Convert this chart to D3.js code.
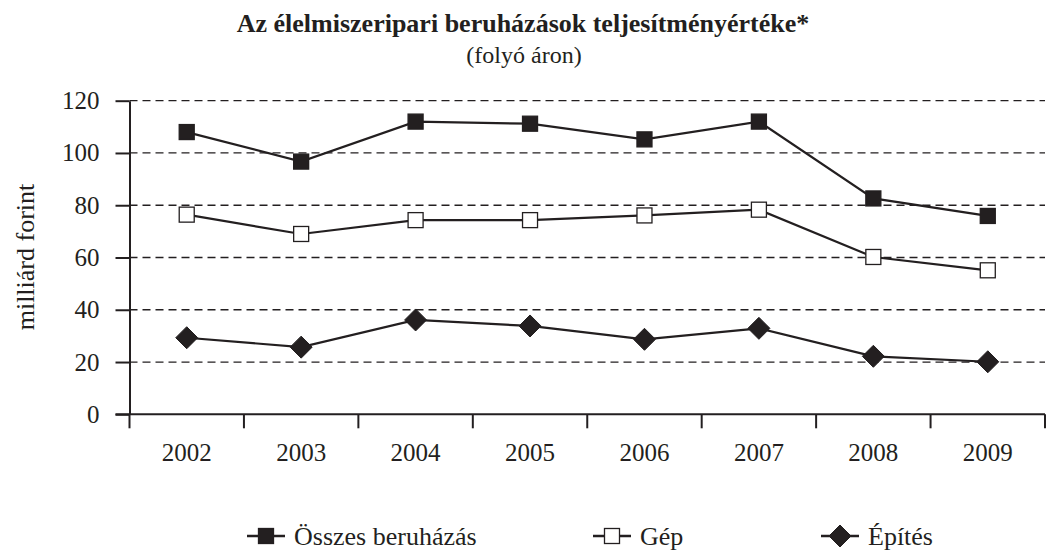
<!DOCTYPE html>
<html>
<head>
<meta charset="utf-8">
<script src="https://cdn.jsdelivr.net/npm/d3@7"></script>
<style>
  body { margin: 0; background: #fff; }
  svg text { font-family: "Liberation Serif", "DejaVu Serif", serif; }
</style>
</head>
<body>
<svg id="chart" width="1048" height="553"></svg>
<script>
// data
const years = ["2002", "2003", "2004", "2005", "2006", "2007", "2008", "2009"];
const osszes = [108, 96.7, 112, 111.2, 105.2, 112, 82.6, 75.9];
const gep = [76.4, 69, 74.3, 74.3, 76.1, 78.3, 60.2, 55.1];
const epites = [29.3, 25.7, 36.1, 33.8, 28.7, 32.9, 22.2, 20.1];
const yTicks = [0, 20, 40, 60, 80, 100, 120];
const seriesNames = ["Összes beruházás", "Gép", "Építés"];

const ink = "#231f20";
const serif = "Liberation Serif, serif";
const svg = d3.select("#chart");

const plotLeft = 129.5, plotRight = 1045, plotTop = 100.7, plotBottom = 414.3;

const x = d3.scaleBand().domain(years).range([plotLeft, plotRight]);
const y = d3.scaleLinear().domain([0, 120]).range([plotBottom, plotTop]);

// title
svg.append("text")
  .attr("x", 523).attr("y", 32)
  .attr("text-anchor", "middle")
  .style("font-family", serif)
  .style("font-weight", "bold").style("font-size", "26px")
  .attr("fill", ink)
  .text("Az élelmiszeripari beruházások teljesítményértéke*");
svg.append("text")
  .attr("x", 524).attr("y", 63)
  .attr("text-anchor", "middle")
  .style("font-family", serif)
  .style("font-size", "24px")
  .attr("fill", ink)
  .text("(folyó áron)");

// dashed grid lines
svg.append("g")
  .selectAll("line")
  .data(yTicks.filter(d => d > 0))
  .join("line")
  .attr("x1", plotLeft).attr("x2", plotRight)
  .attr("y1", d => y(d)).attr("y2", d => y(d))
  .attr("stroke", ink)
  .attr("stroke-width", 1.3)
  .attr("stroke-dasharray", "8,5");

// y axis
const yAxis = svg.append("g")
  .attr("transform", `translate(${plotLeft},0)`)
  .call(d3.axisLeft(y).tickValues(yTicks).tickSize(14).tickSizeOuter(0).tickPadding(16));
yAxis.select(".domain").attr("stroke", ink).attr("stroke-width", 2);
yAxis.selectAll(".tick line").attr("stroke", ink).attr("stroke-width", 2);
yAxis.selectAll(".tick text")
  .attr("fill", ink)
  .style("font-size", "25px")
  .style("font-family", serif);

// x axis: line and ticks at band edges, labels at band centres
const xAxis = svg.append("g")
  .attr("transform", `translate(0,${plotBottom})`)
  .call(d3.axisBottom(x).tickSize(0));
xAxis.select(".domain").remove();
xAxis.selectAll(".tick text")
  .attr("y", 47).attr("dy", 0)
  .attr("fill", ink)
  .style("font-size", "25px")
  .style("font-family", serif);
xAxis.append("line")
  .attr("x1", plotLeft - 14).attr("x2", plotRight)
  .attr("stroke", ink).attr("stroke-width", 2);
xAxis.selectAll(".edge")
  .data(years.concat(["end"]))
  .join("line")
  .attr("class", "edge")
  .attr("x1", (d, i) => plotLeft + i * x.step())
  .attr("x2", (d, i) => plotLeft + i * x.step())
  .attr("y1", 0).attr("y2", 14)
  .attr("stroke", ink).attr("stroke-width", 2);

// y axis title
svg.append("text")
  .attr("transform", "translate(34,257) rotate(-90)")
  .attr("text-anchor", "middle")
  .style("font-family", serif)
  .style("font-size", "26px")
  .attr("fill", ink)
  .text("milliárd forint");

// series
const cx = d => x(d) + x.bandwidth() / 2;
const line = d3.line().x((d, i) => cx(years[i])).y(d => y(d));

const series = [
  { name: seriesNames[0], values: osszes, shape: "square", fill: ink },
  { name: seriesNames[1], values: gep, shape: "square", fill: "#fff" },
  { name: seriesNames[2], values: epites, shape: "diamond", fill: ink }
];

function drawMarker(g, shape, fill) {
  if (shape === "square") {
    g.append("rect")
      .attr("x", -7.5).attr("y", -7.5)
      .attr("width", 15).attr("height", 15)
      .attr("fill", fill)
      .attr("stroke", ink).attr("stroke-width", 1.3);
  } else {
    g.append("path")
      .attr("d", "M0,-11L11,0L0,11L-11,0Z")
      .attr("fill", fill)
      .attr("stroke", ink).attr("stroke-width", 1);
  }
}

series.forEach(s => {
  svg.append("path")
    .datum(s.values)
    .attr("d", line)
    .attr("fill", "none")
    .attr("stroke", ink)
    .attr("stroke-width", 2.2);
  s.values.forEach((v, i) => {
    const g = svg.append("g").attr("transform", `translate(${cx(years[i])},${y(v)})`);
    drawMarker(g, s.shape, s.fill);
  });
});

// legend
const legendX = [266, 612, 840];
series.forEach((s, i) => {
  const g = svg.append("g").attr("transform", `translate(${legendX[i]},536)`);
  g.append("line")
    .attr("x1", -19).attr("x2", 19)
    .attr("stroke", ink).attr("stroke-width", 2.5);
  drawMarker(g, s.shape, s.fill);
  g.append("text")
    .attr("x", 28).attr("y", 9)
    .style("font-family", serif)
    .style("font-size", "26px")
    .attr("fill", ink)
    .text(s.name);
});
</script>
</body>
</html>
